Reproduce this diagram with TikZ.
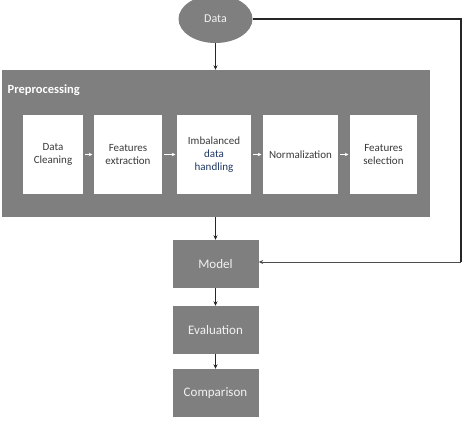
\documentclass[tikz,border=0pt]{standalone}
\usepackage{fontspec}
\setmainfont{Carlito}
\usetikzlibrary{arrows.meta,shapes.geometric}
\definecolor{boxgray}{HTML}{7F7F7F}
\definecolor{inktext}{HTML}{3A3A3A}
\definecolor{navytext}{HTML}{1F3864}
\definecolor{labelwhite}{HTML}{F2F2F2}
\tikzset{
  stage/.style={rectangle, fill=boxgray, draw=none, minimum width=86pt,
    minimum height=48pt, text=labelwhite, font=\fontsize{13}{15}\selectfont},
  substep/.style={rectangle, fill=white, draw=none, minimum height=79pt,
    text=inktext, align=center, font=\fontsize{11}{13}\selectfont, inner sep=1pt},
  flow/.style={draw=black!85, line width=1.2pt, -{Stealth[length=4.5pt,width=4pt]}},
  thinflow/.style={draw=black!70, line width=0.8pt, -{Stealth[length=4.5pt,width=4pt]}},
  whiteflow/.style={draw=white, line width=1pt, -{Stealth[length=3.5pt,width=3.5pt]},
    shorten <=2pt, shorten >=1.5pt}
}
\begin{document}
\begin{tikzpicture}[x=1pt,y=-1pt]
\useasboundingbox (0,0) rectangle (466,428);
\fill[white] (0,0) rectangle (466,428);

% source data
\node[ellipse, fill=boxgray, minimum width=74pt, minimum height=48pt, inner sep=0pt,
  text=labelwhite, font=\fontsize{12}{14}\selectfont] (data) at (215.5,19) {Data};

% preprocessing container
\node[rectangle, fill=boxgray, minimum width=428pt, minimum height=147pt, inner sep=0pt]
  (prep) at (215.5,143.5) {};
\node[anchor=west, text=white, font=\bfseries\fontsize{12.5}{14}\selectfont, inner sep=0pt]
  (preplabel) at (7.5,90) {Preprocessing};

% preprocessing steps
\node[substep, minimum width=60pt] (clean) at (53,154.5) {Data\\Cleaning};
\node[substep, minimum width=68pt] (extract) at (128,154.5) {Features\\extraction};
\node[substep, minimum width=74pt] (imbal) at (214,154.5)
  {Imbalanced\\\textcolor{navytext}{data}\\\textcolor{navytext}{handling}};
\node[substep, minimum width=75pt] (norm) at (300.5,154.5) {Normalization};
\node[substep, minimum width=67pt] (select) at (383.5,154.5) {Features\\selection};

\draw[whiteflow] (clean) -- (extract);
\draw[whiteflow] (extract) -- (imbal);
\draw[whiteflow] (imbal) -- (norm);
\draw[whiteflow] (norm) -- (select);

% modelling stages
\node[stage] (model) at (215.5,264) {Model};
\node[stage] (eval) at (215.5,330) {Evaluation};
\node[stage] (comp) at (215.5,393) {Comparison};

% connectors
\draw[flow] (data.south) -- (prep.north);
\draw[flow] (prep.south) -- (model.north);
\draw[flow] (model.south) -- (eval.north);
\draw[flow] (eval.south) -- (comp.north);

\coordinate (turn) at (461,262);
\draw[draw=black!85, line width=1.2pt] (data.east) -| (turn);
\draw[thinflow] (turn) -- (model.east |- turn);
\end{tikzpicture}
\end{document}
